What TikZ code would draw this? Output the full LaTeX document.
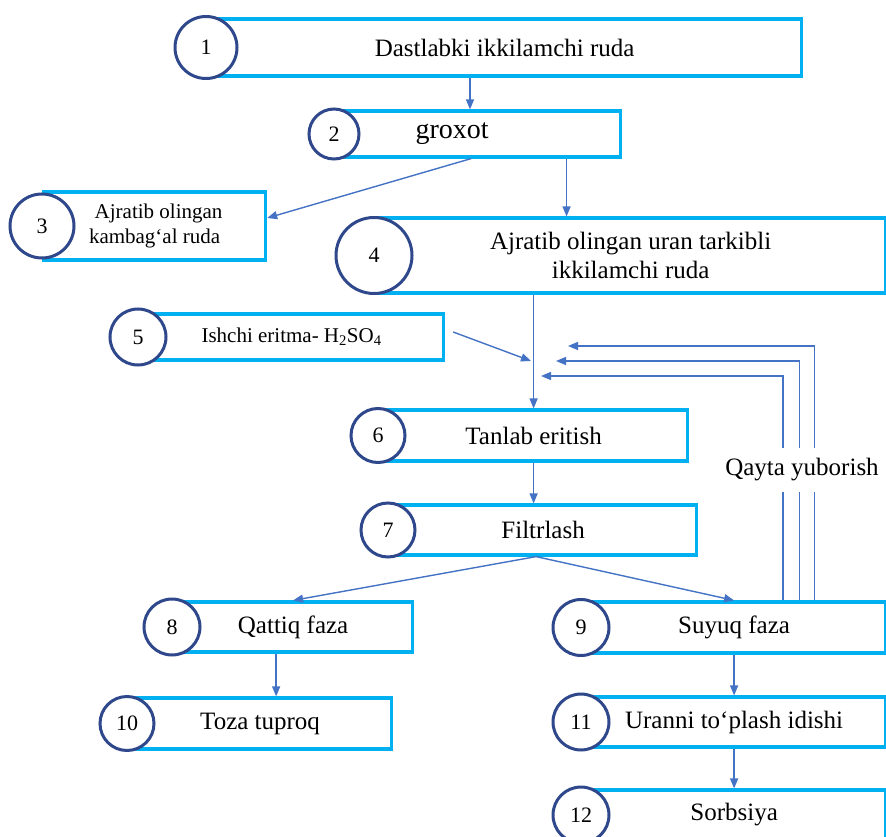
\documentclass[tikz,border=0pt]{standalone}
\usepackage{fontspec}
\setmainfont{Liberation Serif}
\usetikzlibrary{arrows.meta,calc}
\definecolor{boxcyan}{RGB}{0,176,240}
\definecolor{ringblue}{RGB}{47,72,140}
\definecolor{flowblue}{RGB}{68,114,196}

\begin{document}
\begin{tikzpicture}[x=1pt,y=-1pt,>={Triangle[length=10pt,width=8pt]},
  stage/.style={draw=boxcyan, line width=3.2pt, anchor=west, inner sep=0pt,
    font=\fontsize{25}{29}\selectfont},
  num/.style={circle, draw=ringblue, fill=white, line width=3pt, inner sep=0pt,
    minimum size=#1, font=\fontsize{22}{22}\selectfont},
  flow/.style={draw=flowblue, line width=1.4pt}]
  \useasboundingbox (0,0) rectangle (886,837);

  \node[stage, minimum width=594pt, minimum height=57pt] (b_1) at (206,47.5) {Dastlabki ikkilamchi ruda};
  \node[stage, minimum width=285pt, minimum height=46pt, font=\fontsize{28}{30}\selectfont] (b_2) at (334,134) {groxot\hspace*{52pt}};
  \node[stage, minimum width=222pt, minimum height=68pt, align=center, font=\fontsize{21}{25}\selectfont] (b_3) at (42,226) {\hspace*{8pt}Ajratib olingan\\kambag‘al ruda};
  \node[stage, minimum width=510pt, minimum height=75pt, align=center] (b_4) at (374,255.5) {Ajratib olingan uran tarkibli\\ikkilamchi ruda};
  \node[stage, minimum width=304pt, minimum height=46pt, font=\fontsize{21}{25}\selectfont] (b_5) at (138,337) {Ishchi eritma- H\textsubscript{2}SO\textsubscript{4}};
  \node[stage, minimum width=308pt, minimum height=51pt] (b_6) at (378,435.5) {Tanlab eritish};
  \node[stage, minimum width=307pt, minimum height=50pt] (b_7) at (388,530) {Filtrlash};
  \node[stage, minimum width=239pt, minimum height=50pt] (b_8) at (172,627) {Qattiq faza};
  \node[stage, minimum width=303pt, minimum height=51pt] (b_9) at (581,627.5) {Suyuq faza};
  \node[stage, minimum width=263pt, minimum height=51pt] (b_10) at (127,723.5) {Toza tuproq};
  \node[stage, minimum width=303pt, minimum height=50pt] (b_11) at (581,722) {Uranni to‘plash idishi};
  \node[stage, minimum width=303pt, minimum height=50pt] (b_12) at (581,815) {Sorbsiya};

  \node[num=62pt] (c_1) at (b_1.west) {1};
  \node[num=50pt] (c_2) at (b_2.west) {2};
  \node[num=64pt] (c_3) at (b_3.west) {3};
  \node[num=76pt] (c_4) at (b_4.west) {4};
  \node[num=56pt] (c_5) at (b_5.west) {5};
  \node[num=54pt] (c_6) at (b_6.west) {6};
  \node[num=54pt] (c_7) at (b_7.west) {7};
  \node[num=56pt] (c_8) at (b_8.west) {8};
  \node[num=56pt] (c_9) at (b_9.west) {9};
  \node[num=54pt] (c_10) at (b_10.west) {10};
  \node[num=56pt] (c_11) at (b_11.west) {11};
  \node[num=56pt] (c_12) at (b_12.west) {12};

  \coordinate (r_1) at (568,346);
  \coordinate (r_2) at (556,361);
  \coordinate (r_3) at (541,376);
  \coordinate (m_5) at (531,361);

  \draw[flow,->] (b_1.south -| 470,0) -- (b_2.north -| 470,0);
  \draw[flow,->] ([xshift=-7pt]b_2.south) -- ([yshift=8pt]b_3.east);
  \draw[flow,->] ($(b_2.south west)!.807!(b_2.south east)$) coordinate (s_2) -- (s_2 |- b_4.north);
  \draw[flow,->] (b_4.south -| b_6.north) -- (b_6.north);
  \draw[flow,->] ([shift={(8,-5)}]b_5.east) -- (m_5);
  \draw[flow,->] ($(b_9.north west)!.762!(b_9.north east)$) |- (r_1);
  \draw[flow,->] ($(b_9.north west)!.713!(b_9.north east)$) |- (r_2);
  \draw[flow,->] ($(b_9.north west)!.660!(b_9.north east)$) |- (r_3);
  \node[fill=white, inner xsep=2pt, inner ysep=11pt, font=\fontsize{25}{29}\selectfont] (q_y) at (802,470) {Qayta yuborish};
  \draw[flow,->] (b_6.south) -- (b_6.south |- b_7.north);
  \draw[flow,->] ([xshift=-7pt]b_7.south) -- (b_8.north);
  \draw[flow,->] ([xshift=-7pt]b_7.south) -- (b_9.north);
  \draw[flow,->] ($(b_8.south west)!.43!(b_8.south east)$) coordinate (s_8) -- (s_8 |- b_10.north);
  \draw[flow,->] (b_9.south) -- (b_11.north);
  \draw[flow,->] (b_11.south) -- (b_12.north);
\end{tikzpicture}
\end{document}
